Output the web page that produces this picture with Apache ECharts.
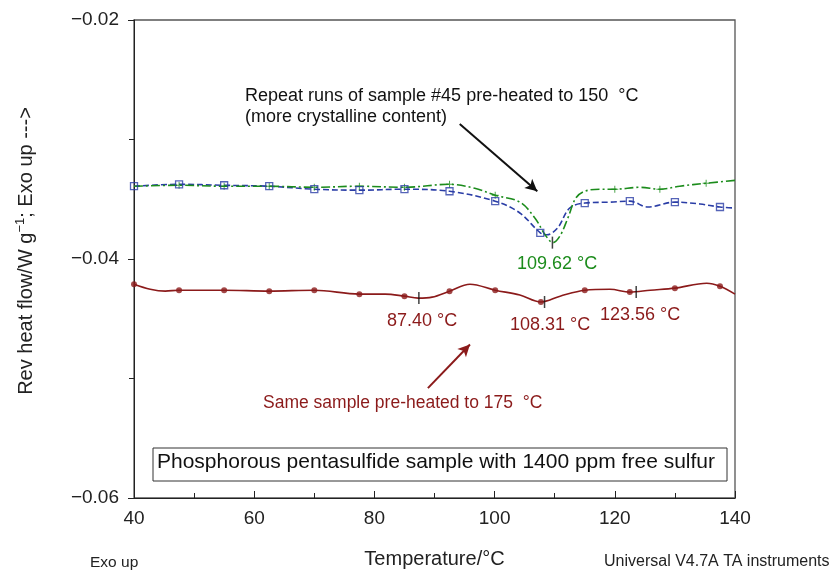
<!DOCTYPE html>
<html>
<head>
<meta charset="utf-8">
<script src="https://cdn.jsdelivr.net/npm/echarts@6/dist/echarts.min.js"></script>
<style>html,body{margin:0;padding:0;background:#fff}#c{width:830px;height:574px}</style>
</head>
<body>
<div id="c"></div>
<script>
// Temperature (°C) and reversing heat flow (W/g)
var greenT = [40, 47.5, 55, 62.5, 70, 77.5, 85, 92.5, 96.7, 100.1, 104.2, 106.7, 108.4, 109.7, 110.9, 112.2, 113.5, 115, 117.5, 120, 124.2, 127.5, 130.8, 135.2, 140];
var greenV = [-0.03391, -0.03383, -0.03391, -0.03391, -0.03400, -0.03391, -0.03400, -0.03375, -0.03408, -0.03466, -0.03524, -0.03656, -0.03797, -0.03863, -0.03805, -0.03656, -0.03491, -0.03433, -0.03416, -0.03416, -0.03400, -0.03416, -0.03391, -0.03366, -0.03342];
var greenMarkT = [47.5, 55, 62.5, 70, 77.5, 85, 92.5, 100.1, 120, 127.5, 135.2];
var greenMarkV = [-0.03383, -0.03391, -0.03391, -0.03400, -0.03391, -0.03400, -0.03375, -0.03466, -0.03416, -0.03416, -0.03366];

var blueT = [40, 47.5, 55, 62.5, 70, 77.5, 85, 92.5, 100.1, 104.2, 107.6, 108.7, 110.5, 112.5, 115, 119.2, 122.5, 125.5, 130, 134.2, 137.5, 140];
var blueV = [-0.03391, -0.03375, -0.03383, -0.03391, -0.03416, -0.03424, -0.03416, -0.03433, -0.03516, -0.03615, -0.03781, -0.03797, -0.03739, -0.03573, -0.03532, -0.03524, -0.03516, -0.03565, -0.03524, -0.03540, -0.03565, -0.03573];
var blueMarkT = [40, 47.5, 55, 62.5, 70, 77.5, 85, 92.5, 100.1, 107.6, 115, 122.5, 130, 137.5];
var blueMarkV = [-0.03391, -0.03375, -0.03383, -0.03391, -0.03416, -0.03424, -0.03416, -0.03433, -0.03516, -0.03781, -0.03532, -0.03516, -0.03524, -0.03565];

var redT = [40, 42.7, 45.2, 47.5, 55, 62.5, 70, 77.5, 81.8, 85, 87.3, 89.6, 92.5, 95.9, 100.1, 104.2, 107.7, 110.9, 115, 119.2, 122.5, 125.9, 130, 135.3, 137.5, 140];
var redV = [-0.04211, -0.04253, -0.04269, -0.04261, -0.04261, -0.04269, -0.04261, -0.04294, -0.04294, -0.04311, -0.04327, -0.04319, -0.04269, -0.04211, -0.04261, -0.04302, -0.04360, -0.04311, -0.04261, -0.04253, -0.04277, -0.04261, -0.04244, -0.04203, -0.04228, -0.04294];
var redMarkT = [40, 47.5, 55, 62.5, 70, 77.5, 85, 92.5, 100.1, 107.7, 115, 122.5, 130, 137.5];
var redMarkV = [-0.04211, -0.04261, -0.04261, -0.04269, -0.04261, -0.04294, -0.04311, -0.04269, -0.04261, -0.04360, -0.04261, -0.04277, -0.04244, -0.04228];

// Peak markers
var peakT = [109.62, 87.40, 108.31, 123.56];
var peakV = [-0.03863, -0.04327, -0.04360, -0.04277];
var peakLabels = ['109.62 °C', '87.40 °C', '108.31 °C', '123.56 °C'];

var xTicks = [40, 60, 80, 100, 120, 140];
var yTicks = [-0.06, -0.04, -0.02];

var GREEN = '#1c8c1c', BLUE = '#2a3da6', RED = '#8b1a1a';
var FONT = 'Liberation Sans, Arial, sans-serif';

function zip(a, b) { return a.map(function (v, i) { return [v, b[i]]; }); }

var chart = echarts.init(document.getElementById('c'), null, {renderer: 'canvas'});
var plusPath = 'path://M4.3,0H5.7V4.3H10V5.7H5.7V10H4.3V5.7H0V4.3H4.3Z';
var tickPath = 'path://M0,0H1V12H0Z';

chart.setOption({
  animation: false,
  backgroundColor: '#fff',
  grid: {left: 134, right: 95, top: 20, bottom: 71, show: true, borderColor: '#555', borderWidth: 1.3, backgroundColor: 'transparent'},
  xAxis: {
    type: 'value', min: xTicks[0], max: xTicks[xTicks.length - 1], interval: 20,
    name: 'Temperature/°C', nameLocation: 'middle', nameGap: 51,
    nameTextStyle: {fontFamily: FONT, fontSize: 20, color: '#222'},
    axisLine: {lineStyle: {color: '#222', width: 1}},
    axisTick: {inside: true, length: 7, lineStyle: {color: '#222'}},
    minorTick: {show: true, splitNumber: 2, length: 5, lineStyle: {color: '#222'}},
    splitLine: {show: false},
    axisLabel: {fontFamily: FONT, fontSize: 19, color: '#222', margin: 11}
  },
  yAxis: {
    type: 'value', min: yTicks[0], max: yTicks[yTicks.length - 1], interval: 0.02,
    axisLine: {lineStyle: {color: '#222', width: 1}},
    axisTick: {inside: false, length: 6, lineStyle: {color: '#222'}},
    minorTick: {show: true, splitNumber: 2, length: 5, lineStyle: {color: '#222'}},
    splitLine: {show: false},
    axisLabel: {fontFamily: FONT, fontSize: 19, color: '#222', margin: 15,
      formatter: function (v) { return (v < 0 ? '−' : '') + Math.abs(v).toFixed(2); }}
  },
  series: [
    {type: 'line', data: zip(greenT, greenV), smooth: 0.35, symbol: 'none', z: 3,
     lineStyle: {color: GREEN, width: 1.6, type: [9, 3, 2, 3]}},
    {type: 'scatter', data: zip(greenMarkT, greenMarkV), symbol: plusPath, symbolSize: 7, z: 4,
     itemStyle: {color: GREEN}},
    {type: 'line', data: zip(blueT, blueV), smooth: 0.35, symbol: 'none', z: 2,
     lineStyle: {color: BLUE, width: 1.6, type: [6, 3]}},
    {type: 'scatter', data: zip(blueMarkT, blueMarkV), symbol: 'rect', symbolSize: 7, z: 5,
     itemStyle: {color: 'rgba(255,255,255,0)', borderColor: BLUE, borderWidth: 1.3}},
    {type: 'line', data: zip(redT, redV), smooth: 0.35, symbol: 'none', z: 2,
     lineStyle: {color: RED, width: 1.6},
     markLine: {silent: true, symbol: ['none', 'arrow'], symbolSize: [9, 12], label: {show: false},
       data: [
         [{coord: [94.2, -0.02870], lineStyle: {color: '#111', width: 2, type: 'solid'}}, {coord: [107.1, -0.03433]}],
         [{coord: [88.9, -0.05081], lineStyle: {color: RED, width: 2, type: 'solid'}}, {coord: [95.9, -0.04716]}]
       ]}},
    {type: 'scatter', data: zip(redMarkT, redMarkV), symbol: 'circle', symbolSize: 6, z: 4,
     itemStyle: {color: RED}},
    {type: 'scatter', data: zip(peakT, peakV), symbol: tickPath, symbolSize: [1.5, 12], z: 6,
     itemStyle: {color: '#111'}}
  ],
  graphic: [
    {type: 'text', x: 26, y: 251, rotation: Math.PI / 2,
     style: {text: 'Rev heat flow/W g{sup|−1}; Exo up --->', font: '20px ' + FONT, fill: '#222', align: 'center', verticalAlign: 'middle',
       rich: {sup: {font: '13px ' + FONT, fill: '#222', padding: [0, 0, 12, 0]}}}},
    {type: 'text', left: 245, top: 86, style: {text: 'Repeat runs of sample #45 pre-heated to 150  °C\n(more crystalline content)', font: '18px ' + FONT, fill: '#111', lineHeight: 21}},
    {type: 'text', left: 517, top: 255, style: {text: peakLabels[0], font: '18px ' + FONT, fill: GREEN}},
    {type: 'text', left: 387, top: 312, style: {text: peakLabels[1], font: '18px ' + FONT, fill: RED}},
    {type: 'text', left: 510, top: 316, style: {text: peakLabels[2], font: '18px ' + FONT, fill: RED}},
    {type: 'text', left: 600, top: 306, style: {text: peakLabels[3], font: '18px ' + FONT, fill: RED}},
    {type: 'text', left: 263, top: 394, style: {text: 'Same sample pre-heated to 175  °C', font: '17.5px ' + FONT, fill: RED}},
    {type: 'rect', shape: {x: 153, y: 448, width: 574, height: 33}, style: {fill: '#fff', stroke: '#333', lineWidth: 1}, z: 10},
    {type: 'text', left: 157, top: 452, z: 11, style: {text: 'Phosphorous pentasulfide sample with 1400 ppm free sulfur', font: '21px ' + FONT, fill: '#111'}},
    {type: 'text', left: 90, top: 555, style: {text: 'Exo up', font: '15.5px ' + FONT, fill: '#222'}},
    {type: 'text', left: 604, top: 554, style: {text: 'Universal V4.7A TA instruments', font: '16px ' + FONT, fill: '#222'}}
  ]
});
</script>
</body>
</html>
